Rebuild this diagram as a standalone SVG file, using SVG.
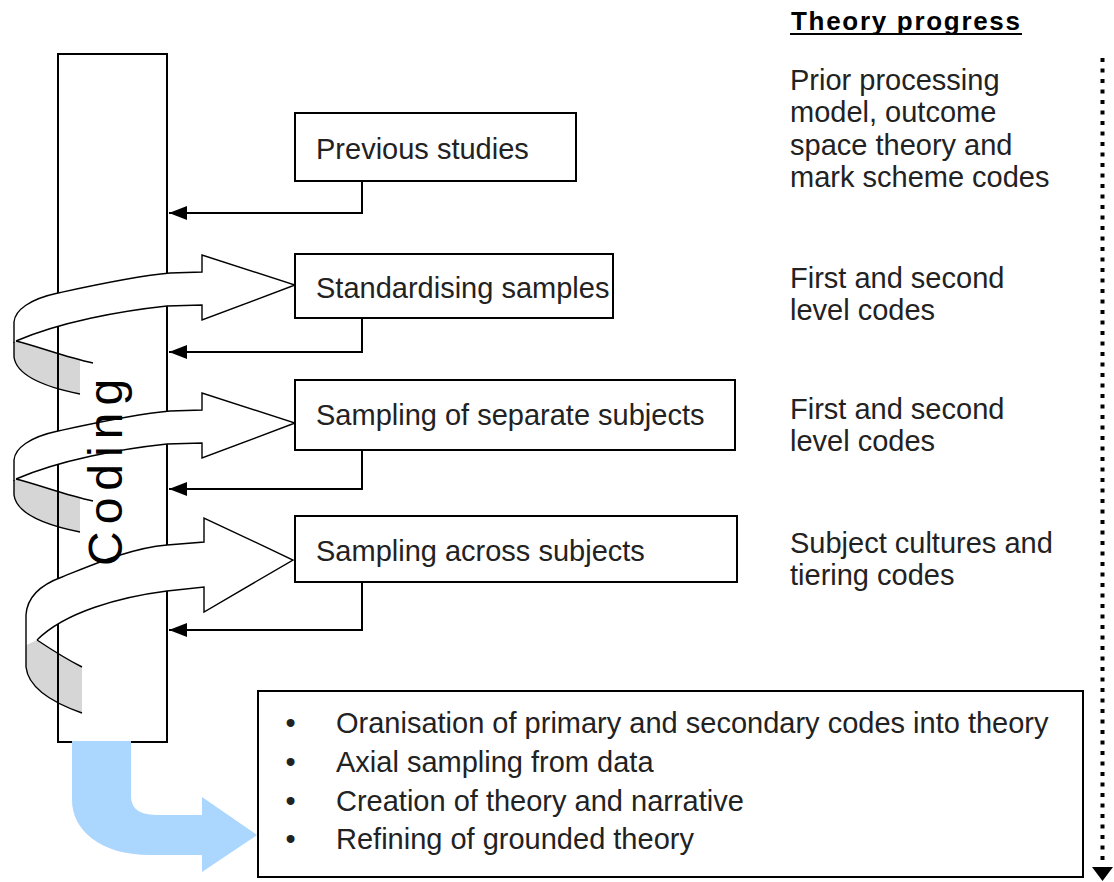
<svg xmlns="http://www.w3.org/2000/svg" width="1114" height="882" viewBox="0 0 1114 882">
<style>
.t{font-family:"Liberation Sans",Arial,sans-serif;font-size:29px;fill:#222}
.box{fill:#fff;stroke:#000;stroke-width:2}
.conn{fill:none;stroke:#000;stroke-width:2}
.gray{fill:#d6d6d6;stroke:none}
.edge{fill:none;stroke:#000;stroke-width:1.4}
.band{fill:#fff;stroke:#000;stroke-width:1.4;stroke-linejoin:miter}
</style>
<defs>
<marker id="ah" viewBox="0 0 18 14" refX="18" refY="7" markerWidth="18" markerHeight="14" markerUnits="userSpaceOnUse" orient="auto">
<path d="M0,0 L18,7 L0,14 Z" fill="#000"/>
</marker>
<g id="grayTop">
<path class="gray" d="M16,341 C40,347 60,355 80,360 L80,394 C35,385 16,372 14,357 L14,342 Z"/>
<path class="edge" d="M16,341 C40,347 65,357 93,363"/>
<path class="edge" d="M80,394 C35,385 16,372 14,357 L14,342"/>
</g>
<path id="bandTop" class="band" d="M14,343 L14,322 C15,310 30,299 58,293 C90,286 135,276 170,273 L202,272 L202,255 L295,285 L202,320 L202,305 L167,306 C120,311 60,322 16,341"/>
</defs>

<g id="coding-spiral">
<use href="#grayTop"/>
<use href="#grayTop" transform="translate(0,138)"/>
<g>
<path class="gray" d="M37,640 C52,650 68,660 82,666 L82,713 C45,700 28,685 26,667 L26,645 Z"/>
<path class="edge" d="M37,640 C52,650 68,660 82,667"/>
<path class="edge" d="M82,713 C45,700 28,685 26,667 L26,645"/>
</g>
<rect id="coding-column" x="58" y="54" width="109" height="688" fill="none" stroke="#000" stroke-width="2"/>
<use href="#bandTop"/>
<use href="#bandTop" transform="translate(0,138)"/>
<path class="band" d="M26,645 L26,615 C27,598 40,585 62,577 C90,566 130,548 167,545 L204,542 L204,518 L293,560 L204,612 L204,587 L167,591 C120,597 65,612 37,640"/>
<text transform="translate(122,566) rotate(-90)" font-family="'Liberation Sans',Arial,sans-serif" font-size="48" letter-spacing="7" fill="#000">Coding</text>
</g>

<g id="blue-arrow">
<path d="M72,741 L131,741 L131,795 C131,810 140,815 160,815 L202,815 L202,797 L257,835 L202,872 L202,855 L150,855 C100,855 72,830 72,800 Z" fill="#abd6fd"/>
</g>

<g id="connectors">
<path class="conn" d="M362,181 L362,213 L169,213" marker-end="url(#ah)"/>
<path class="conn" d="M362,318 L362,352 L169,352" marker-end="url(#ah)"/>
<path class="conn" d="M362,450 L362,489 L169,489" marker-end="url(#ah)"/>
<path class="conn" d="M362,582 L362,630 L169,630" marker-end="url(#ah)"/>
<line x1="1102.5" y1="58" x2="1102.5" y2="864" stroke="#000" stroke-width="4" stroke-dasharray="4 6.5"/>
<path d="M1092,867 L1113,867 L1102.5,881 Z" fill="#000"/>
</g>

<g id="previous-studies">
<rect class="box" x="295" y="113" width="281" height="68"/>
<text class="t" x="316" y="159">Previous studies</text>
</g>
<g id="standardising-samples">
<rect class="box" x="295" y="254" width="318" height="64"/>
<text class="t" x="316" y="298">Standardising samples</text>
</g>
<g id="sampling-separate">
<rect class="box" x="295" y="380" width="440" height="70"/>
<text class="t" x="316" y="425">Sampling of separate subjects</text>
</g>
<g id="sampling-across">
<rect class="box" x="295" y="516" width="442" height="66"/>
<text class="t" x="316" y="561">Sampling across subjects</text>
</g>

<g id="theory-box">
<rect class="box" x="258" y="691" width="825" height="186"/>
<text class="t" x="285.5" y="733">•</text>
<text class="t" x="285.5" y="772">•</text>
<text class="t" x="285.5" y="811">•</text>
<text class="t" x="285.5" y="849">•</text>
<text class="t" x="336" y="733">Oranisation of primary and secondary codes into theory</text>
<text class="t" x="336" y="772">Axial sampling from data</text>
<text class="t" x="336" y="811">Creation of theory and narrative</text>
<text class="t" x="336" y="849">Refining of grounded theory</text>
</g>

<g id="theory-progress">
<text x="791" y="30" font-family="'Liberation Sans',Arial,sans-serif" font-size="26" font-weight="bold" fill="#000" textLength="229" lengthAdjust="spacing">Theory progress</text>
<line x1="790" y1="34" x2="1022" y2="34" stroke="#000" stroke-width="2"/>
<text class="t" x="790" y="90">Prior processing</text>
<text class="t" x="790" y="122">model, outcome</text>
<text class="t" x="790" y="155">space theory and</text>
<text class="t" x="790" y="187">mark scheme codes</text>
<text class="t" x="790" y="288">First and second</text>
<text class="t" x="790" y="320">level codes</text>
<text class="t" x="790" y="419">First and second</text>
<text class="t" x="790" y="451">level codes</text>
<text class="t" x="790" y="553">Subject cultures and</text>
<text class="t" x="790" y="585">tiering codes</text>
</g>
</svg>
